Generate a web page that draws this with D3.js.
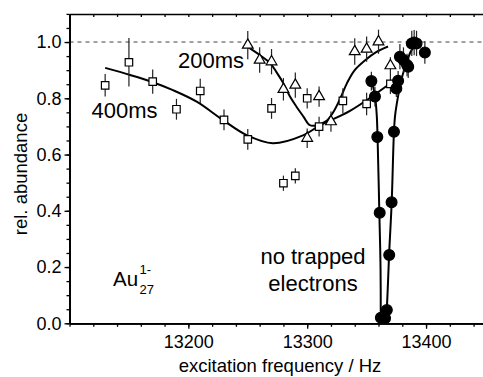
<!DOCTYPE html>
<html><head><meta charset="utf-8">
<script src="https://cdn.jsdelivr.net/npm/d3@7"></script>
<style>
html,body{margin:0;padding:0;background:#fff;}
svg{display:block;font-family:"Liberation Sans",Arial,sans-serif;}
</style></head><body>
<svg id="chart" width="483" height="377"></svg>
<script>
// 400 ms storage (open squares)
const freq400 = [13130,13150,13170,13190,13210,13230,13250,13270,13280,13290,13300,13310,13330,13350,13370];
const rel400  = [0.846,0.928,0.859,0.761,0.826,0.723,0.654,0.764,0.498,0.524,0.800,0.699,0.791,0.780,0.851];
const err400  = [0.040,0.086,0.043,0.037,0.043,0.037,0.037,0.037,0.027,0.027,0.036,0.035,0.045,0.040,0.036];

// 200 ms storage (open triangles)
const freq200 = [13250,13260,13270,13280,13290,13300,13310,13320,13340,13350,13360,13370];
const rel200  = [0.989,0.936,0.930,0.832,0.847,0.658,0.806,0.717,0.966,0.975,1.001,0.916];
const err200  = [0.050,0.045,0.045,0.040,0.045,0.035,0.036,0.036,0.047,0.045,0.043,0.030];

// no trapped electrons (filled circles)
const freqFree = [13354,13357,13359,13361,13362,13365.5,13367,13369,13371,13373,13375,13376.5,13378,13381,13384,13385,13388,13390,13392,13399];
const relFree  = [0.861,0.806,0.662,0.393,0.020,0.018,0.047,0.243,0.430,0.681,0.835,0.862,0.948,0.936,0.918,0.912,0.995,0.998,0.995,0.963];
const errFree  = [0.033,0.035,0.015,0.015,0.010,0.010,0.010,0.015,0.015,0.020,0.030,0.035,0.045,0.045,0.040,0.040,0.045,0.045,0.045,0.040];

// fitted curves
const fit400F = [13130,13151,13169,13187,13207,13229,13249,13271,13297,13310,13336,13368];
const fit400V = [0.908,0.883,0.859,0.829,0.788,0.723,0.669,0.640,0.669,0.702,0.755,0.847];
const fit200F = [13250,13260,13269,13274,13280,13285.5,13291,13297,13302,13307,13316,13322,13328,13333.5,13340,13349,13358,13368];
const fit200V = [0.983,0.954,0.924,0.894,0.853,0.806,0.770,0.734,0.705,0.703,0.719,0.751,0.801,0.854,0.900,0.936,0.964,0.984];
const fitFreeLeftF  = [13354.3,13357.1,13358.5,13359.2,13360.7,13361.7,13361.9];
const fitFreeLeftV  = [0.861,0.806,0.741,0.662,0.393,0.200,0.000];
const fitFreeRightF = [13365.9,13366.9,13369.1,13371.1,13373,13374,13377,13379.5,13384,13388,13395];
const fitFreeRightV = [0.000,0.047,0.261,0.431,0.681,0.740,0.820,0.871,0.930,0.972,0.995];

// axis ticks
const yMajor = [0,0.2,0.4,0.6,0.8,1.0];
const xMajor = [13200,13300,13400];

const svg = d3.select("#chart");
const padLeft = 69.5, padBottom = 323.3, padTop = 13.9;
const x = d3.scaleLinear().domain([13100, 13460]).range([padLeft, padLeft + 360 * 1.1885]);
const y = d3.scaleLinear().domain([0, 1.1]).range([padBottom, padTop]);

// reference line at full abundance
svg.append("line")
  .attr("x1", x(13100)).attr("x2", 483)
  .attr("y1", y(1)).attr("y2", y(1))
  .attr("stroke", "#444").attr("stroke-width", 1).attr("stroke-dasharray", "4,4");

// axes
function styleAxis(g, w) {
  g.selectAll("path.domain").attr("stroke", "#000").attr("stroke-width", w);
  g.selectAll(".tick line").attr("stroke", "#000").attr("stroke-width", 1.3);
  g.selectAll("text").attr("fill", "#000").attr("font-family", '"Liberation Sans",Arial,sans-serif');
}
const minorX = d3.range(13100, 13461, 20);
const minorY = d3.range(0, 1.1001, 0.05);

// top frame with inward ticks
svg.append("g").attr("transform", `translate(0,${padTop})`)
  .call(d3.axisBottom(x).tickValues(minorX).tickSize(3).tickSizeOuter(0).tickFormat(""))
  .call(g => styleAxis(g, 1.5));

svg.append("g").attr("transform", `translate(0,${padBottom})`)
  .call(d3.axisBottom(x).tickValues(minorX).tickSize(3.5).tickSizeOuter(0).tickFormat(""))
  .call(g => styleAxis(g, 1.8));
svg.append("g").attr("transform", `translate(0,${padBottom})`)
  .call(d3.axisBottom(x).tickValues(xMajor).tickSize(5.5).tickSizeOuter(0).tickPadding(6).tickFormat(d3.format("d")))
  .call(g => styleAxis(g, 1.8))
  .call(g => g.selectAll("text").attr("font-size", 18));

svg.append("g").attr("transform", `translate(${padLeft},0)`)
  .call(d3.axisLeft(y).tickValues(minorY).tickSize(3).tickSizeOuter(0).tickFormat(""))
  .call(g => styleAxis(g, 1.8));
svg.append("g").attr("transform", `translate(${padLeft},0)`)
  .call(d3.axisLeft(y).tickValues(yMajor).tickSize(5).tickSizeOuter(0).tickPadding(3).tickFormat(d3.format(".1f")))
  .call(g => styleAxis(g, 1.8))
  .call(g => g.selectAll("text").attr("font-size", 18));

// axis titles
svg.append("text").attr("x", 280).attr("y", 371.5).attr("text-anchor", "middle")
  .attr("font-size", 18.5).text("excitation frequency / Hz");
svg.append("text").attr("transform", "translate(27,174) rotate(-90)").attr("text-anchor", "middle")
  .attr("font-size", 18.5).text("rel. abundance");

// plot content
const plot = svg.append("g");
const lineGen = d3.line().x(d => x(d[0])).y(d => y(d[1])).curve(d3.curveCatmullRom.alpha(0.5));
const fits = [
  [fit400F, fit400V], [fit200F, fit200V],
  [fitFreeLeftF, fitFreeLeftV], [fitFreeRightF, fitFreeRightV]
];
fits.forEach(([fs, vs]) => {
  plot.append("path").datum(fs.map((f, i) => [f, vs[i]]))
    .attr("d", lineGen).attr("fill", "none").attr("stroke", "#000").attr("stroke-width", 2);
});

function series(fs, vs, es, symbolType, size, fill) {
  const data = fs.map((f, i) => ({ f, v: vs[i], e: es[i] }));
  const g = plot.append("g");
  g.selectAll("line").data(data).join("line")
    .attr("x1", d => x(d.f)).attr("x2", d => x(d.f))
    .attr("y1", d => y(d.v + d.e)).attr("y2", d => y(d.v - d.e))
    .attr("stroke", "#222").attr("stroke-width", 1.2);
  g.selectAll("path").data(data).join("path")
    .attr("transform", d => `translate(${x(d.f)},${y(d.v)})`)
    .attr("d", d3.symbol().type(symbolType).size(size))
    .attr("fill", fill).attr("stroke", "#000").attr("stroke-width", 1.2);
}
series(freq400, rel400, err400, d3.symbolSquare, 56, "#fff");
series(freq200, rel200, err200, d3.symbolTriangle, 50, "#fff");
series(freqFree, relFree, errFree, d3.symbolCircle, 92, "#000");

// annotations
const ann = svg.append("g").attr("fill", "#000");
ann.append("text").attr("x", 91.5).attr("y", 118.3).attr("font-size", 22).text("400ms");
ann.append("text").attr("x", 178).attr("y", 68.3).attr("font-size", 22).text("200ms");
ann.append("text").attr("x", 313).attr("y", 264).attr("text-anchor", "middle").attr("font-size", 22).text("no trapped");
ann.append("text").attr("x", 313).attr("y", 291).attr("text-anchor", "middle").attr("font-size", 22).text("electrons");
ann.append("text").attr("x", 113).attr("y", 286).attr("font-size", 20.5).text("Au");
ann.append("text").attr("x", 139.5).attr("y", 274).attr("font-size", 13).text("1-");
ann.append("text").attr("x", 139.5).attr("y", 293.5).attr("font-size", 13).text("27");
</script>
</body></html>
